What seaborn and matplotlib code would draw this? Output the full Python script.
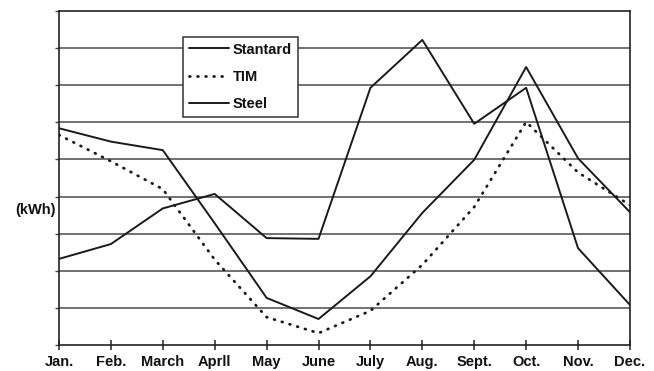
import matplotlib
matplotlib.use("Agg")
import matplotlib.pyplot as plt
import seaborn as sns
import pandas as pd

months = ["Jan.", "Feb.", "March", "Aprll", "May", "June", "July",
          "Aug.", "Sept.", "Oct.", "Nov.", "Dec."]
standard = [2.32, 2.72, 3.68, 4.07, 2.88, 2.86, 6.93, 8.22, 5.96, 6.93, 2.61, 1.08]
tim = [5.66, 4.95, 4.2, 2.3, 0.75, 0.32, 0.92, 2.16, 3.72, 6.01, 4.65, 3.77]
steel = [5.84, 5.48, 5.25, 3.28, 1.27, 0.70, 1.85, 3.56, 4.99, 7.49, 5.03, 3.58]

sns.set_theme(style="white")
plt.rcParams["font.family"] = ["Liberation Sans", "DejaVu Sans"]

df = pd.DataFrame({"x": range(len(months)), "Stantard": standard,
                   "TIM": tim, "Steel": steel})

fig = plt.figure(figsize=(6.54, 3.71), dpi=100)
ax = fig.add_axes([0.0902, 0.0701, 0.8730, 0.9003])

for y in range(1, 9):
    ax.axhline(y, color="#4a4a4a", lw=1.1, zorder=1)

sns.lineplot(data=df, x="x", y="Stantard", ax=ax, color="#1a1a1a",
             lw=1.4, label="Stantard", zorder=3)
sns.lineplot(data=df, x="x", y="TIM", ax=ax, color="#1a1a1a", lw=2.0,
             linestyle=(0, (0.3, 2.6)), dash_capstyle="round",
             label="TIM", zorder=3)
sns.lineplot(data=df, x="x", y="Steel", ax=ax, color="#1a1a1a",
             lw=1.4, label="Steel", zorder=3)

ax.set_xlim(0, 11)
ax.set_ylim(0, 9)
ax.set_xticks(range(len(months)))
ax.set_xticklabels(months, fontsize=10.5, fontweight="bold", color="#111111")
ax.set_yticks(range(0, 10))
ax.set_yticklabels([])
ax.tick_params(axis="x", direction="inout", length=7, width=1.1,
               color="#222222", pad=4, bottom=True)
ax.tick_params(axis="y", direction="out", length=3, width=1.0,
               color="#444444", left=True)
ax.set_xlabel("")
ax.set_ylabel("(kWh)", rotation=0, fontsize=10.5, fontweight="bold",
              color="#111111", ha="right", va="center")
ax.yaxis.set_label_coords(-0.005, 0.404)

for side in ["left", "right", "top", "bottom"]:
    ax.spines[side].set_visible(True)
    ax.spines[side].set_color("#222222")
    ax.spines[side].set_linewidth(1.2)

leg = ax.legend(loc="upper left", bbox_to_anchor=(0.218, 0.923),
                frameon=True, fancybox=False, fontsize=10.5,
                handlelength=2.7, handletextpad=0.3, borderpad=0.4,
                labelspacing=0.9, borderaxespad=0)
leg.get_frame().set_edgecolor("#333333")
leg.get_frame().set_linewidth(1.1)
leg.get_frame().set_alpha(1)
for t in leg.get_texts():
    t.set_fontweight("bold")
    t.set_color("#111111")

fig.savefig("out.png", dpi=100, facecolor="white")
